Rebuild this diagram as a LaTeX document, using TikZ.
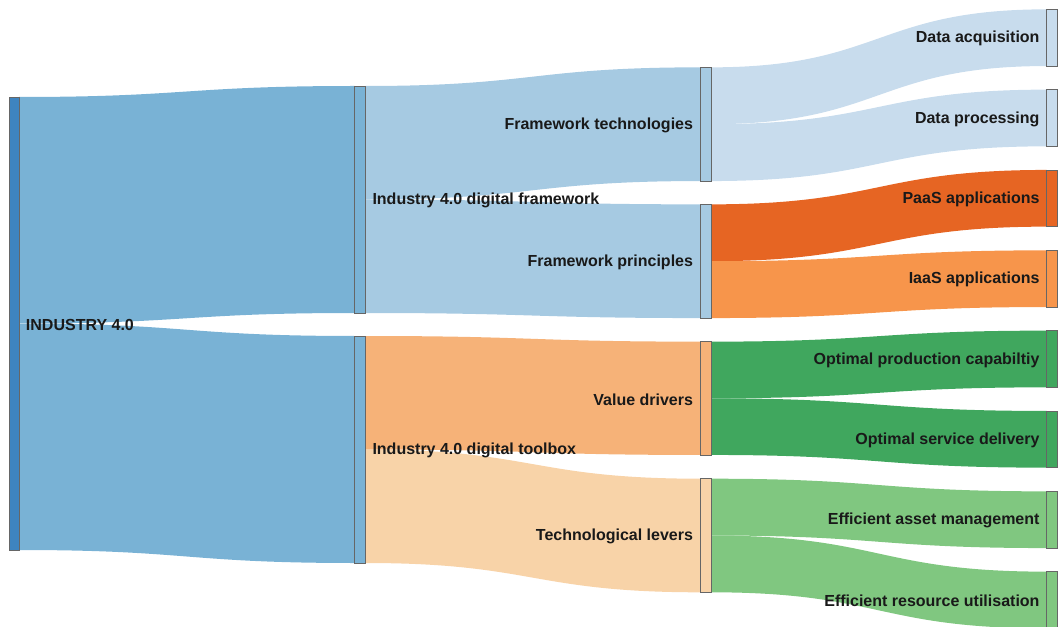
\documentclass[tikz,border=0pt]{standalone}
\usepackage{fontspec}
\setmainfont{Liberation Sans}
\usetikzlibrary{positioning,calc}
\pgfdeclarelayer{bg}
\pgfsetlayers{bg,main}

\definecolor{cIndNode}{RGB}{62,132,192}
\definecolor{cInd}{RGB}{121,178,213}
\definecolor{cFrame}{RGB}{166,202,226}
\definecolor{cTech}{RGB}{200,220,237}
\definecolor{cValue}{RGB}{246,178,120}
\definecolor{cLever}{RGB}{248,211,168}
\definecolor{cPaas}{RGB}{230,101,35}
\definecolor{cIaas}{RGB}{247,149,75}
\definecolor{cGreen}{RGB}{64,167,94}
\definecolor{cLGreen}{RGB}{128,199,128}

\tikzset{every picture/.style={line width=0.75pt}}

% band from part of a source bar to a whole target bar
\newcommand\sflow[5]{%
\begin{pgfonlayer}{bg}
\fill[#5] ($(#1.north east)!#2!(#1.south east)$) to[out=0,in=180,looseness=1.28] (#4.north west) -- (#4.south west) to[out=180,in=0,looseness=1.28] ($(#1.north east)!#3!(#1.south east)$) -- cycle;
\end{pgfonlayer}}

\begin{document}
\begin{tikzpicture}[x=0.75pt,y=0.75pt,yscale=-1,xscale=1,
  bar/.style={draw=black!60,line width=0.6pt,inner sep=0pt,outer sep=0pt,minimum width=11*0.75pt},
  ht/.style={minimum height=#1*0.75pt},
  lbl/.style={inner sep=0.75pt,yshift=-0.75pt,font=\fontsize{12}{14}\selectfont\bfseries,text=black!90},
  node distance=4.3pt]
\useasboundingbox (0,0) rectangle (1060,627);

%Bars: level 0
\node[bar,fill=cIndNode,ht=453,minimum width=10*0.75pt] (ind) at (14,323.5) {};
%Bars: level 1
\node[bar,fill=cInd,ht=227] (frame) at (360,199.5) {};
\node[bar,fill=cInd,ht=227] (tbox) at (360,449.5) {};
%Bars: level 2
\node[bar,fill=cFrame,ht=113.7] (ftech) at (705.5,124.2) {};
\node[bar,fill=cFrame,ht=113.7] (fprin) at (705.5,261.2) {};
\node[bar,fill=cValue,ht=113.3] (vdriv) at (705.5,398.3) {};
\node[bar,fill=cLever,ht=113.6] (tlev) at (705.5,535.5) {};
%Bars: level 3
\node[bar,fill=cTech,ht=56.7] (dacq) at (1052,37.7) {};
\node[bar,fill=cTech,ht=56.7] (dproc) at (1052,118) {};
\node[bar,fill=cPaas,ht=56.7] (paas) at (1052,198.3) {};
\node[bar,fill=cIaas,ht=56.7] (iaas) at (1052,278.7) {};
\node[bar,fill=cGreen,ht=56.7] (oprod) at (1052,359) {};
\node[bar,fill=cGreen,ht=56.7] (oserv) at (1052,439.3) {};
\node[bar,fill=cLGreen,ht=56.7] (easset) at (1052,519.7) {};
\node[bar,fill=cLGreen,ht=56.7] (eres) at (1052,600) {};

%Flows
\sflow{ind}{0}{0.5}{frame}{cInd}
\sflow{ind}{0.5}{1}{tbox}{cInd}
\sflow{frame}{0}{0.5}{ftech}{cFrame}
\sflow{frame}{0.5}{1}{fprin}{cFrame}
\sflow{tbox}{0}{0.5}{vdriv}{cValue}
\sflow{tbox}{0.5}{1}{tlev}{cLever}
\sflow{ftech}{0}{0.5}{dacq}{cTech}
\sflow{ftech}{0.5}{1}{dproc}{cTech}
\sflow{fprin}{0}{0.5}{paas}{cPaas}
\sflow{fprin}{0.5}{1}{iaas}{cIaas}
\sflow{vdriv}{0}{0.5}{oprod}{cGreen}
\sflow{vdriv}{0.5}{1}{oserv}{cGreen}
\sflow{tlev}{0}{0.5}{easset}{cLGreen}
\sflow{tlev}{0.5}{1}{eres}{cLGreen}

% Text Node
\node[lbl,right=of ind] (indl) {INDUSTRY 4.0};
\node[lbl,right=of frame] (framel) {Industry 4.0 digital framework};
\node[lbl,right=of tbox] (tboxl) {Industry 4.0 digital toolbox};
% Text Node
\node[lbl,left=of ftech] (ftechl) {Framework technologies};
\node[lbl,left=of fprin] (fprinl) {Framework principles};
\node[lbl,left=of vdriv] (vdrivl) {Value drivers};
\node[lbl,left=of tlev] (tlevl) {Technological levers};
% Text Node
\node[lbl,left=of dacq] (dacql) {Data acquisition};
\node[lbl,left=of dproc] (dprocl) {Data processing};
\node[lbl,left=of paas] (paasl) {PaaS applications};
\node[lbl,left=of iaas] (iaasl) {IaaS applications};
\node[lbl,left=of oprod] (oprodl) {Optimal production capabiltiy};
\node[lbl,left=of oserv] (oservl) {Optimal service delivery};
\node[lbl,left=of easset] (eassetl) {Efficient asset management};
\node[lbl,left=of eres] (eresl) {Efficient resource utilisation};

\end{tikzpicture}
\end{document}
